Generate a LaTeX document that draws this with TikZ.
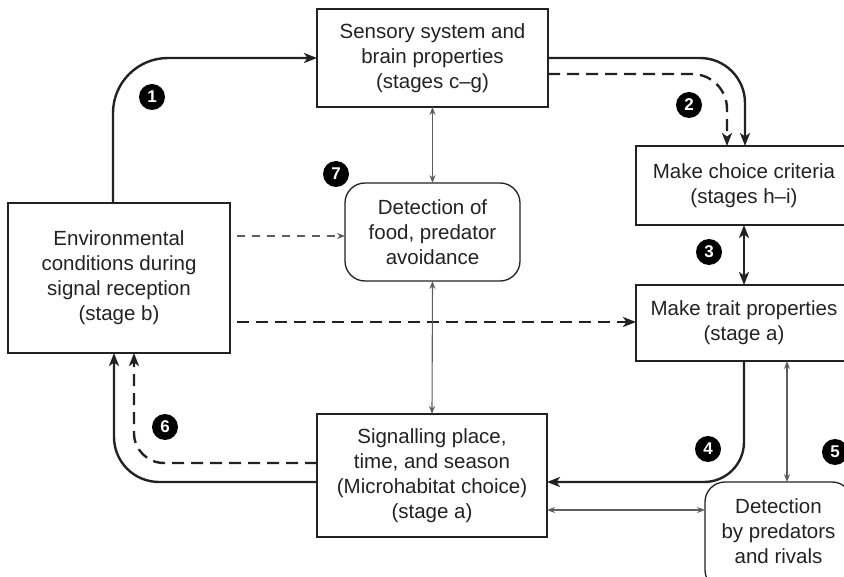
\documentclass[tikz,border=0pt]{standalone}
\usepackage{fontspec}
\setmainfont{Liberation Sans}
\usetikzlibrary{arrows.meta}
\definecolor{ink}{HTML}{222222}
\definecolor{thin}{HTML}{5E5E5E}
\tikzset{
  txt/.style={font=\fontsize{20.5}{25}\selectfont, text=ink, align=center},
  sqbox/.style={txt, draw=ink, line width=2pt, inner sep=0pt, outer sep=0pt},
  rbox/.style={draw=ink, line width=1.3pt, rounded corners=20pt, inner sep=0pt, outer sep=0pt},
  heavy/.style={draw=ink, line width=2.4pt, -{Stealth[length=13pt,width=10pt,inset=3.5pt]}},
  heavyboth/.style={draw=ink, line width=2.4pt,
    {Stealth[length=13pt,width=10pt,inset=3.5pt]}-{Stealth[length=13pt,width=10pt,inset=3.5pt]}},
  heavydash/.style={heavy, dash pattern=on 12pt off 7pt},
  both/.style={draw=thin, line width=1.1pt, {Stealth[length=8pt,width=6pt]}-{Stealth[length=8pt,width=6pt]}},
  lightdash/.style={draw=thin, line width=1.1pt, dash pattern=on 8pt off 7pt, -{Stealth[length=8pt,width=6pt]}},
  num/.style={circle, fill=black, text=white, minimum size=26pt, inner sep=0pt,
    font=\fontsize{17}{17}\selectfont\bfseries}
}
\begin{document}
\begin{tikzpicture}[x=1pt, y=-1pt]
\useasboundingbox (0,0) rectangle (844,577);

% boxes
\node[sqbox, minimum width=231pt, minimum height=98pt] (sens) at (432.5,58)
  {Sensory system and\\brain properties\\(stages c--g)};
\node[sqbox, minimum width=216pt, minimum height=79pt] (choice) at (744,185.5)
  {Make choice criteria\\(stages h--i)};
\node[sqbox, minimum width=216pt, minimum height=76pt] (trait) at (744,323)
  {Make trait properties\\(stage a)};
\node[sqbox, minimum width=222pt, minimum height=150pt] (env) at (119,278)
  {Environmental\\conditions during\\signal reception\\(stage b)};
\node[sqbox, minimum width=230pt, minimum height=123pt] (sig) at (432,475.5)
  {Signalling place,\\time, and season\\(Microhabitat choice)\\(stage a)};
\node[rbox, txt, minimum width=175pt, minimum height=98pt] (food) at (432.5,232)
  {Detection of\\food, predator\\avoidance};
\node[rbox, minimum width=147pt, minimum height=108pt] (pred) at (778.5,536) {};
\node[txt, inner sep=0pt] (predtxt) at (778.5,531) {Detection\\by predators\\and rivals};

% numbered markers
\node[num] (n1) at (152,97) {1};
\node[num] (n2) at (689,105) {2};
\node[num] (n3) at (709,252) {3};
\node[num] (n4) at (708,449) {4};
\node[num] (n5) at (835,452) {5};
\node[num] (n6) at (165,427) {6};
\node[num] (n7) at (336,174) {7};

% main loop
\draw[heavy, rounded corners=55pt] (113,0 |- env.north) |- (sens.west);
\draw[heavy, rounded corners=45pt] (sens.east) -| (745,0 |- choice.north);
\draw[heavydash, rounded corners=35pt] (sens.east |- 0,74) -| (727,0 |- choice.north);
\draw[heavyboth] (choice.south) -- (trait.north);
\draw[heavy, rounded corners=40pt] (trait.south) |- (sig.east |- 0,482);
\draw[heavy, rounded corners=45pt] (sig.west |- 0,482) -| (114,0 |- env.south);
\draw[heavydash, rounded corners=30pt] (sig.west |- 0,463) -| (134,0 |- env.south);

% environment influences
\coordinate (d1) at (237,236);
\coordinate (d2) at (237,322);
\draw[lightdash] (d1) -- (food.west |- d1);
\draw[heavydash] (d2) -- (trait.west |- d2);

% detection links
\draw[both] (sens.south) -- (food.north);
\draw[both] (food.south) -- (sig.north);
\draw[both] (787,0 |- trait.south) -- (787,0 |- pred.north);
\draw[both] (sig.east |- 0,510) -- (pred.west |- 0,510);
\end{tikzpicture}
\end{document}
